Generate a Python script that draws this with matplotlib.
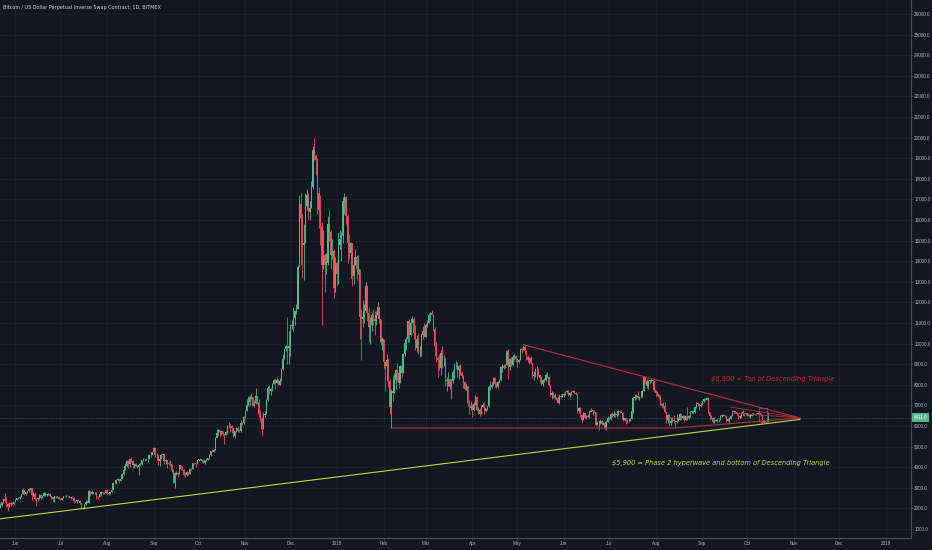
import matplotlib
matplotlib.use("Agg")
import matplotlib.pyplot as plt
import matplotlib.transforms as mtransforms
import numpy as np
import pandas as pd

# ---------------- data (daily candles, BitMEX XBTUSD) ----------------
start_2017 = "2017-05-20"
first_open = 1990
close_2017 = [
    2050, 2060, 2150, 2290, 2450, 2380, 2200, 2050, 2200, 2280, 2200, 2300,
    2400, 2490, 2520, 2530, 2700, 2880, 2700, 2800, 2830, 2950, 2980, 2650, 2720, 2470, 2450,
    2500, 2650, 2520, 2600, 2750, 2660, 2700, 2720, 2580, 2550, 2440, 2580, 2580, 2550, 2480,
    2430, 2510, 2590, 2610, 2620, 2610, 2520, 2560, 2520, 2380, 2350, 2400, 2370, 2240, 2000,
    1980, 2230, 2320, 2280, 2850, 2680, 2820, 2740, 2740, 2560, 2540, 2680, 2800, 2730, 2770, 2880,
    2750, 2720, 2800, 2880, 3250, 3220, 3380, 3420, 3350, 3420, 3650, 3870, 4070, 4320, 4160,
    4380, 4290, 4120, 4170, 4070, 4020, 4090, 4150, 4330, 4370, 4350, 4380, 4390, 4590, 4580, 4740,
    4910, 4580, 4600, 4290, 4400, 4600, 4620, 4300, 4330, 4220, 4170, 4140, 3880, 3250, 3700,
    3700, 3690, 4100, 3900, 3880, 3620, 3600, 3780, 3660, 3930, 3890, 4200, 4190, 4160, 4340,
    4380, 4400, 4310, 4220, 4330, 4370, 4430, 4610, 4770, 4760, 4820, 5440, 5640, 5820, 5700,
    5760, 5600, 5580, 5700, 6000, 6010, 5980, 5900, 5520, 5740, 5890, 5770, 5740, 6150, 6130, 6450,
    6740, 7030, 7160, 7390, 7390, 6990, 7130, 7460, 7150, 6590, 6330, 5860, 6530, 6600, 7280,
    7850, 7700, 7790, 8040, 8240, 8100, 8240, 8010, 8200, 8750, 9250, 9720, 9880, 9800, 9900,
    10850, 10900, 11230, 11600, 11700, 13700, 16800, 16100, 14800, 14900, 16700, 17200, 16400, 16600, 17600,
    19400, 19100, 18900, 17300, 16500, 15700, 13800, 14300, 13800, 13900, 15800, 15400, 14300, 14500, 12700, 13900,
]
high_2017 = [
    2080, 2120, 2280, 2300, 2500, 2750, 2600, 2250, 2300, 2320, 2320, 2330,
    2450, 2500, 2560, 2580, 2720, 2970, 2880, 2820, 2850, 2970, 3000, 2990, 2780, 2800, 2520,
    2530, 2680, 2680, 2640, 2780, 2800, 2720, 2750, 2730, 2620, 2570, 2600, 2620, 2600, 2560,
    2500, 2520, 2620, 2650, 2640, 2630, 2620, 2570, 2580, 2530, 2420, 2420, 2420, 2380, 2250,
    2050, 2260, 2390, 2400, 2900, 2850, 2880, 2820, 2790, 2780, 2620, 2700, 2830, 2800, 2780, 2900,
    2930, 2770, 2820, 2900, 3300, 3290, 3420, 3480, 3420, 3440, 3700, 3950, 4200, 4330, 4350,
    4400, 4480, 4360, 4180, 4200, 4100, 4120, 4260, 4350, 4460, 4380, 4400, 4400, 4630, 4640, 4760,
    4960, 4920, 4700, 4600, 4480, 4650, 4680, 4650, 4380, 4310, 4300, 4350, 4140, 3900, 3760,
    3810, 3750, 4120, 4100, 4040, 3890, 3750, 3820, 3780, 3960, 3970, 4210, 4270, 4200, 4360,
    4400, 4470, 4420, 4340, 4360, 4440, 4460, 4620, 4800, 4900, 4880, 5450, 5860, 5840, 5800,
    5780, 5770, 5600, 5740, 6070, 6180, 6080, 6040, 5900, 5760, 5970, 5990, 5860, 6310, 6200, 6470,
    6760, 7330, 7450, 7490, 7600, 7400, 7200, 7860, 7450, 7300, 6800, 6450, 6700, 6740, 7330,
    7950, 8000, 7850, 8100, 8300, 8350, 8320, 8280, 8330, 8800, 9500, 9750, 9950, 11300, 10600,
    10950, 11150, 11800, 11620, 11900, 13800, 17200, 17300, 16300, 15800, 17300, 17500, 17300, 16900, 17900,
    19600, 20000, 19200, 19000, 17600, 17200, 15900, 15500, 14400, 14400, 16200, 16500, 15500, 15100, 14600, 14200,
]
low_2017 = [
    1980, 2010, 2020, 2130, 2280, 2300, 2050, 1850, 2050, 2120, 2150, 2150,
    2300, 2390, 2450, 2480, 2530, 2700, 2650, 2650, 2770, 2820, 2880, 2400, 2600, 2400, 2120,
    2370, 2480, 2480, 2500, 2600, 2600, 2600, 2650, 2550, 2480, 2330, 2300, 2500, 2520, 2460,
    2390, 2400, 2500, 2580, 2560, 2590, 2500, 2480, 2510, 2330, 2300, 2270, 2340, 2200, 1990,
    1950, 1960, 2150, 2270, 2270, 2620, 2700, 2680, 2700, 2480, 2460, 2530, 2660, 2700, 2680, 2760,
    2650, 2670, 2720, 2780, 2870, 3180, 3200, 3360, 3240, 3330, 3410, 3620, 3850, 4000, 3950,
    4000, 4250, 3960, 3950, 4050, 3950, 3600, 4080, 4120, 4300, 4300, 4330, 4230, 4380, 4500, 4570,
    4690, 4480, 4420, 4100, 4050, 4400, 4480, 4140, 4170, 3950, 4120, 4080, 3770, 3240, 2980,
    3600, 3520, 3700, 3860, 3850, 3590, 3500, 3580, 3640, 3660, 3860, 3890, 4150, 4000, 4160,
    4280, 4360, 4260, 4200, 4170, 4320, 4330, 4420, 4560, 4730, 4730, 4820, 5400, 5580, 5450,
    5560, 5530, 5120, 5560, 5620, 5900, 5720, 5650, 5480, 5400, 5700, 5700, 5690, 5700, 6040, 6100,
    6400, 6740, 6950, 6980, 7300, 6950, 6920, 7070, 7070, 6450, 6200, 5500, 5850, 6450, 6600,
    7200, 7550, 7500, 7700, 8020, 7800, 8100, 8000, 8000, 8180, 8740, 9300, 9620, 9000, 9000,
    9400, 10700, 10600, 10900, 11450, 11700, 13700, 13800, 13200, 13100, 14900, 16500, 16000, 16000, 16600,
    17500, 18900, 18200, 16300, 15600, 14800, 10900, 13600, 12500, 13400, 13800, 15000, 13600, 14100, 12200, 12500,
]

start_2018 = "2018-01-01"
close_2018 = [
    13400, 14800, 15100, 15200, 16900, 17100, 16200, 14900, 14400, 14900, 13300, 13800, 14200, 13600, 13600,
    11300, 11200, 11300, 11600, 12800, 11500, 10800, 10900, 11400, 11200, 11100, 11400, 11800, 11200, 10100, 10200,
    9100, 8900, 9200, 8200, 6900, 7700, 7600, 8250, 8700, 8550, 8100, 8900, 8550, 9500,
    10050, 10200, 11100, 10400, 11000, 11200, 10500, 9800, 10200, 9700, 9700, 10400, 10600, 10300,
    10900, 11000, 11400, 11500, 11400, 10700, 9900, 9300, 9200, 8800, 9550, 9150, 9150, 8200, 8250,
    8300, 7900, 8200, 8600, 8900, 8900, 8700, 8900, 8550, 8450, 8150, 7800, 7950, 7100, 6850, 6950,
    6800, 7050, 7400, 6800, 6800, 6600, 6900, 7000, 6750, 6850, 6950, 7900, 7900, 8000, 8350,
    8050, 7900, 8150, 8250, 8850, 8900, 8800, 8950, 9650, 8850, 9250, 8950, 9350, 9400, 9250,
    9100, 9200, 9750, 9700, 9850, 9650, 9350, 9200, 9300, 9050, 8450, 8500, 8700, 8700, 8500,
    8350, 8050, 8250, 8250, 8500, 8400, 8000, 7500, 7600, 7500, 7350, 7350, 7100, 7450, 7400, 7500,
    7550, 7650, 7700, 7500, 7600, 7650, 7700, 7600, 7550, 6750, 6850, 6550, 6300, 6650, 6400,
    6500, 6450, 6700, 6750, 6750, 6700, 6050, 6150, 6150, 6250, 6100, 6150, 5900, 6200, 6400,
    6350, 6600, 6500, 6600, 6550, 6600, 6750, 6700, 6650, 6300, 6400, 6250, 6250, 6250, 6350,
    6750, 7350, 7400, 7450, 7350, 7400, 7400, 7700, 8400, 8200, 7950, 8200, 8200, 8200, 8200, 7750,
    7600, 7550, 7400, 7000, 7050, 6950, 6700, 6300, 6550, 6150, 6250, 6300, 6250, 6200, 6250,
    6300, 6600, 6400, 6500, 6300, 6500, 6400, 6500, 6700, 6750, 6700, 6900, 7100, 7050, 6950, 7000,
    7200, 7300, 7250, 7350, 6700, 6500, 6400, 6200, 6250, 6300, 6300, 6300, 6500, 6500, 6550,
    6500, 6250, 6350, 6350, 6500, 6750, 6700, 6700, 6600, 6450, 6450, 6650, 6650, 6600, 6600,
    6600, 6500, 6500, 6600, 6600, 6570, 6600, 6650, 6630, 6550, 6200, 6250, 6250, 6280, 6411,
]
high_2018 = [
    14000, 15400, 15500, 15400, 17100, 17300, 17100, 16300, 15300, 14950, 14900, 14100, 14600, 14300, 14300,
    13600, 11700, 12100, 11900, 13000, 12800, 11800, 11300, 11500, 11700, 11600, 11600, 12000, 11800, 11200, 10300,
    10200, 9100, 9500, 9300, 8300, 7800, 8500, 8550, 8750, 9050, 8550, 8950, 8950, 9550,
    10200, 10300, 11100, 11200, 11250, 11350, 11300, 10900, 10400, 10500, 9900, 10500, 10850, 11000,
    11000, 11150, 11500, 11550, 11650, 11400, 10800, 10100, 9400, 9500, 9700, 9900, 9450, 9350, 8400,
    8600, 8350, 8300, 8700, 9050, 9150, 9100, 8950, 9000, 8650, 8500, 8200, 8100, 7950, 7250, 7200,
    7050, 7150, 7500, 7450, 6900, 6850, 7050, 7100, 7150, 6880, 6980, 8000, 8200, 8150, 8400,
    8400, 8150, 8200, 8300, 8900, 9000, 9000, 9000, 9700, 9750, 9300, 9350, 9450, 9500, 9450,
    9250, 9250, 9800, 9800, 9950, 9950, 9650, 9450, 9350, 9400, 9050, 8650, 8800, 8900, 8800,
    8500, 8450, 8300, 8350, 8550, 8600, 8450, 8050, 7700, 7650, 7600, 7400, 7450, 7550, 7550, 7600,
    7600, 7700, 7750, 7750, 7650, 7700, 7750, 7700, 7650, 7550, 6900, 6900, 6600, 6700, 6650,
    6550, 6600, 6800, 6850, 6800, 6800, 6700, 6250, 6250, 6350, 6300, 6200, 6150, 6300, 6500,
    6450, 6650, 6700, 6750, 6700, 6650, 6800, 6800, 6800, 6700, 6400, 6400, 6350, 6300, 6400,
    6800, 7450, 7550, 7550, 7700, 7450, 7550, 7750, 8450, 8450, 8300, 8250, 8250, 8300, 8250, 8200,
    7750, 7700, 7550, 7500, 7100, 7150, 7150, 6700, 6600, 6600, 6450, 6450, 6550, 6250, 6600,
    6450, 6650, 6600, 6550, 6550, 6500, 6900, 6550, 6750, 6800, 6800, 6950, 7150, 7150, 7050, 7100,
    7250, 7350, 7350, 7400, 7400, 6700, 6550, 6450, 6450, 6350, 6400, 6350, 6550, 6600, 6600,
    6550, 6550, 6400, 6450, 6550, 6800, 6800, 6750, 6700, 6600, 6550, 6700, 6800, 6650, 6650,
    6650, 6600, 6550, 6650, 6650, 6600, 6630, 6700, 6660, 6640, 6550, 6300, 6280, 6350, 6700,
]
low_2018 = [
    12800, 12900, 14600, 14000, 14900, 16300, 15800, 13900, 14100, 13200, 12800, 12900, 13800, 13100, 13400,
    10200, 9200, 10800, 11000, 11600, 11100, 10100, 10000, 10600, 10900, 10400, 10900, 11300, 11000, 9950, 9700,
    8800, 7700, 8200, 7900, 6600, 5900, 7200, 7600, 7800, 8200, 7850, 8100, 8400, 8550,
    9400, 9700, 10100, 10100, 10350, 11000, 10200, 9700, 9600, 9500, 9350, 9400, 10200, 10300,
    10300, 10800, 11000, 11100, 11400, 10600, 9400, 9100, 8400, 8700, 8500, 8800, 8900, 7950, 7700,
    7950, 7800, 7300, 8100, 8300, 8750, 8400, 8300, 8500, 8350, 7850, 7750, 7750, 6950, 6600, 6800,
    6450, 6750, 7000, 6750, 6600, 6500, 6600, 6900, 6600, 6700, 6800, 6900, 7750, 7850, 8000,
    7900, 7850, 7850, 8100, 8200, 8600, 8750, 8800, 8950, 8300, 8700, 8900, 8900, 9200, 9100,
    8850, 9050, 9200, 9550, 9700, 9500, 9200, 9100, 9000, 9000, 8350, 8250, 8400, 8300, 8450,
    8100, 8000, 7950, 8150, 8200, 8350, 7950, 7450, 7300, 7350, 7300, 7250, 7100, 7050, 7300, 7400,
    7400, 7500, 7600, 7450, 7400, 7500, 7650, 7550, 7500, 6650, 6650, 6450, 6150, 6300, 6400,
    6350, 6450, 6400, 6700, 6550, 6650, 6000, 6050, 5800, 6100, 6050, 6050, 5850, 5800, 6200,
    6300, 6300, 6450, 6450, 6450, 6450, 6500, 6650, 6650, 6250, 6300, 6100, 6150, 6200, 6250,
    6350, 6650, 7250, 7300, 7300, 7250, 7350, 7400, 7700, 8050, 7850, 7800, 8100, 8150, 7900, 7650,
    7450, 7450, 7300, 6950, 6900, 6850, 6650, 6150, 6150, 6050, 6050, 6200, 6150, 5900, 6150,
    6250, 6300, 6300, 6350, 6250, 6300, 6300, 6350, 6450, 6650, 6600, 6650, 6850, 6950, 6800, 6900,
    7000, 7150, 7200, 7250, 6650, 6300, 6350, 6150, 6150, 6250, 6200, 6200, 6300, 6450, 6500,
    6450, 6200, 6250, 6150, 6350, 6500, 6650, 6650, 6550, 6350, 6400, 6400, 6550, 6500, 6550,
    6500, 6450, 6400, 6500, 6550, 6530, 6520, 6580, 6580, 6500, 6100, 6180, 6210, 6230, 6200,
]

last_price = 6411.0

y_ticks = list(range(1000, 27000, 1000))
month_starts = ["2017-06-01", "2017-07-01", "2017-08-01", "2017-09-01", "2017-10-01", "2017-11-01",
                "2017-12-01", "2018-01-01", "2018-02-01", "2018-03-01", "2018-04-01", "2018-05-01",
                "2018-06-01", "2018-07-01", "2018-08-01", "2018-09-01", "2018-10-01", "2018-11-01",
                "2018-12-01", "2019-01-01"]
month_labels = ["Jun", "Jul", "Aug", "Sep", "Oct", "Nov", "Dec", "2018", "Feb", "Mar", "Apr", "May",
                "Jun", "Jul", "Aug", "Sep", "Oct", "Nov", "Dec", "2019"]

# user drawings
support_dates = ["2017-05-21", "2018-11-05"]
support_prices = [1485, 6320]
resist_dates = ["2018-05-05", "2018-11-05"]
resist_prices = [9950, 6390]
bottom_dates = ["2018-02-06", "2018-08-14", "2018-11-05"]
bottom_prices = [5900, 5900, 6390]
inner1_dates = ["2018-09-20", "2018-11-05"]
inner1_prices = [6920, 6390]
inner2_dates = ["2018-09-21", "2018-11-05"]
inner2_prices = [6640, 6390]
box_dates = ["2018-10-09", "2018-10-14"]
box_prices = [6190, 6870]

title = "Bitcoin / US Dollar Perpetual Inverse Swap Contract, 1D, BITMEX"
note_top = "$6,900 = Top of Descending Triangle"
note_top_pos = ("2018-09-07", 8280)
note_bot = "$5,900 = Phase 2 hyperwave and bottom of Descending Triangle"
note_bot_pos = ("2018-07-03", 4210)

# ---------------- checks ----------------
if not (len(close_2017) == len(high_2017) == len(low_2017)):
    raise ValueError(f"2017 lengths {len(close_2017)} {len(high_2017)} {len(low_2017)}")
if not (len(close_2018) == len(high_2018) == len(low_2018)):
    raise ValueError(f"2018 lengths {len(close_2018)} {len(high_2018)} {len(low_2018)}")

REF = pd.Timestamp("2018-01-01")


def dnum(s):
    return (pd.Timestamp(s) - REF) / pd.Timedelta(days=1)


d17 = pd.date_range(start_2017, periods=len(close_2017), freq="D")
d18 = pd.date_range(start_2018, periods=len(close_2018), freq="D")
x = np.concatenate([((d17 - REF) / pd.Timedelta(days=1)).values,
                    ((d18 - REF) / pd.Timedelta(days=1)).values]).astype(float)
c = np.array(close_2017 + close_2018, dtype=float)
h = np.array(high_2017 + high_2018, dtype=float)
l = np.array(low_2017 + low_2018, dtype=float)
o = np.concatenate([[first_open], c[:-1]])
hi = np.maximum.reduce([h, o, c])
lo = np.minimum.reduce([l, o, c])

UP = "#53b987"
DOWN = "#eb4d5c"
BG = "#131722"
GRID = "#1c2130"
AXC = "#4a4e5a"
TXT = "#b2b5be"

W, H = 932, 550
fig = plt.figure(figsize=(W / 100, H / 100), dpi=100, facecolor=BG)
ax = fig.add_axes([0, 12 / H, 911 / W, 538 / H])
ax.set_facecolor(BG)

ax.set_xlim(-224.2, 381.9)
ax.set_ylim(563, 26680)

ax.set_xticks([dnum(m) for m in month_starts])
ax.set_xticklabels(month_labels)
ax.yaxis.tick_right()
ax.set_yticks(y_ticks)
ax.set_yticklabels([f"{v:.1f}" for v in y_ticks])
ax.grid(True, color=GRID, lw=0.6)
ax.set_axisbelow(True)
for s in ["top", "left"]:
    ax.spines[s].set_visible(False)
for s in ["right", "bottom"]:
    ax.spines[s].set_color(AXC)
    ax.spines[s].set_linewidth(0.8)
ax.tick_params(axis="both", colors=AXC, length=1.5, width=0.5, labelsize=3.3,
               labelcolor=TXT, pad=0.8)
for lab in ax.get_xticklabels() + ax.get_yticklabels():
    lab.set_family("Liberation Sans")

# candles
up = c >= o
cols = np.where(up, UP, DOWN)
ax.vlines(x, lo, hi, colors=cols, lw=0.6, zorder=3)
body_bottom = np.minimum(o, c)
body_h = np.maximum(np.abs(c - o), 12)
ax.bar(x, body_h, bottom=body_bottom, width=0.85, color=cols, linewidth=0, zorder=4)

# price line and label
ax.axhline(last_price, color=UP, lw=0.5, ls=(0, (1, 1.5)), alpha=0.55, zorder=2)
trans = mtransforms.blended_transform_factory(ax.transAxes, ax.transData)
ax.text(1.003, last_price, f"{last_price:.1f}", transform=trans, ha="left", va="center",
        fontsize=3.3, color="white", clip_on=False, zorder=10, family="Liberation Sans",
        bbox=dict(boxstyle="square,pad=0.35", fc=UP, ec="none"))

# drawings
YEL = "#c8d43c"
RED = "#b5303b"
ax.plot([dnum(d) for d in support_dates], support_prices, color=YEL, lw=0.8, zorder=5)
ax.plot([dnum(d) for d in resist_dates], resist_prices, color=RED, lw=0.8, zorder=5)
ax.plot([dnum(d) for d in bottom_dates], bottom_prices, color=RED, lw=0.8, zorder=5)
ax.plot([dnum(d) for d in inner1_dates], inner1_prices, color=RED, lw=0.6, zorder=5)
ax.plot([dnum(d) for d in inner2_dates], inner2_prices, color=RED, lw=0.6, zorder=5)
bx = [dnum(d) for d in box_dates]
ax.add_patch(plt.Rectangle((bx[0], box_prices[0]), bx[1] - bx[0], box_prices[1] - box_prices[0],
                           fill=False, ec="#6a6d78", lw=0.5, zorder=6))

ax.text(dnum(note_top_pos[0]), note_top_pos[1], note_top, color="#c62828", fontsize=4.8,
        style="italic", ha="left", va="center", family="DejaVu Sans", zorder=7)
ax.text(dnum(note_bot_pos[0]), note_bot_pos[1], note_bot, color=YEL, fontsize=4.8,
        style="italic", ha="left", va="center", family="DejaVu Sans", zorder=7)

fig.text(3 / W, 1 - 7.5 / H, title, color="#d1d4dc", fontsize=3.5, ha="left", va="center",
         family="DejaVu Sans")

fig.savefig("out.png", dpi=100, facecolor=BG)
